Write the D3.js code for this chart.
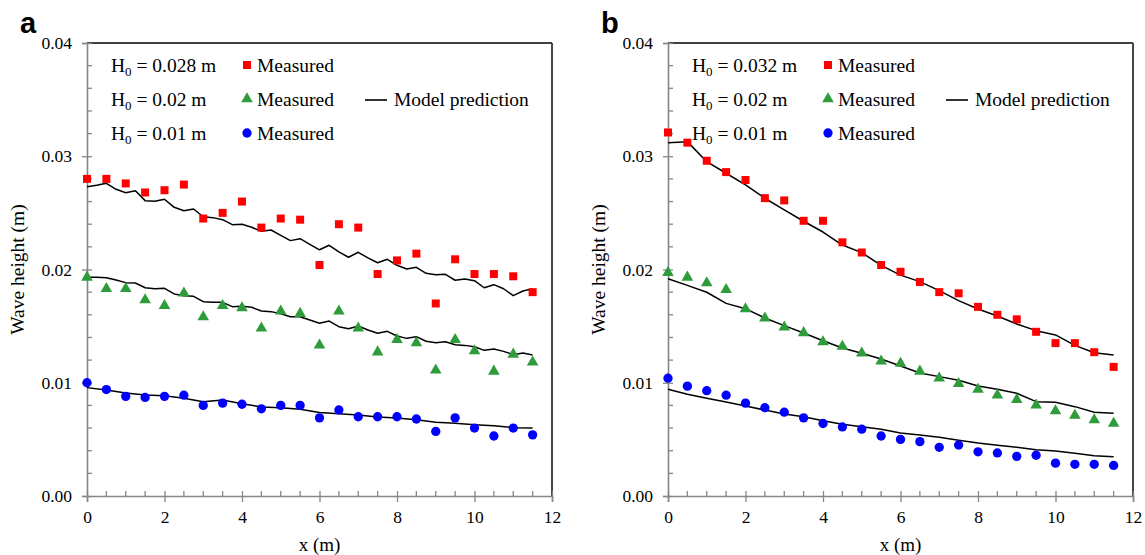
<!DOCTYPE html>
<html>
<head>
<meta charset="utf-8">
<script src="https://cdn.jsdelivr.net/npm/d3@7"></script>
<style>
  body { margin: 0; background: #fff; }
  svg { display: block; }
  text { font-family: "Liberation Serif", "Times New Roman", serif; fill: #000; }
</style>
</head>
<body>
<div id="chart"></div>
<script>
// Measured station positions (m)
const xMeas = [0, 0.5, 1, 1.5, 2, 2.5, 3, 3.5, 4, 4.5, 5, 5.5, 6, 6.5, 7, 7.5, 8, 8.5, 9, 9.5, 10, 10.5, 11, 11.5];
// Model output positions
const xModelFine = [0, 0.25, 0.5, 0.75, 1, 1.25, 1.5, 1.75, 2, 2.25, 2.5, 2.75, 3, 3.25, 3.5, 3.75, 4, 4.25, 4.5, 4.75,
  5, 5.25, 5.5, 5.75, 6, 6.25, 6.5, 6.75, 7, 7.25, 7.5, 7.75, 8, 8.25, 8.5, 8.75, 9, 9.25, 9.5, 9.75,
  10, 10.25, 10.5, 10.75, 11, 11.25, 11.5];
const xModel = xMeas;

// Panel a
const aRedMeas = [0.0280, 0.0280, 0.0276, 0.0268, 0.0270, 0.0275, 0.0245, 0.0250, 0.0260, 0.0237, 0.0245, 0.0244,
  0.0204, 0.0240, 0.0237, 0.0196, 0.0208, 0.0214, 0.0170, 0.0209, 0.0196, 0.0196, 0.0194, 0.0180];
const aGreenMeas = [0.0194, 0.0184, 0.0184, 0.0174, 0.0169, 0.0180, 0.0159, 0.0169, 0.0167, 0.0149, 0.0164, 0.0162,
  0.0134, 0.0164, 0.0149, 0.0128, 0.0139, 0.0136, 0.0112, 0.0139, 0.0129, 0.0111, 0.0126, 0.0119];
const aBlueMeas = [0.0100, 0.0094, 0.0088, 0.0087, 0.0088, 0.0089, 0.0080, 0.0082, 0.0081, 0.0077, 0.0080, 0.0080,
  0.0069, 0.0076, 0.0070, 0.0070, 0.0070, 0.0068, 0.0057, 0.0069, 0.0060, 0.0053, 0.0060, 0.0054];
const aRedModel = [0.02731, 0.02743, 0.02761, 0.02708, 0.02678, 0.02696, 0.02608, 0.02602, 0.0262, 0.02549, 0.02519, 0.02534,
  0.02466, 0.02458, 0.0244, 0.02396, 0.02399, 0.02373, 0.02337, 0.02349, 0.02302, 0.02255, 0.02272, 0.02222,
  0.02174, 0.02214, 0.02155, 0.02108, 0.02152, 0.02102, 0.0206, 0.0209, 0.02037, 0.02004, 0.02019, 0.01966,
  0.01954, 0.01957, 0.01905, 0.01916, 0.01901, 0.01839, 0.01866, 0.0183, 0.01769, 0.0181, 0.0183];
const aGreenModel = [0.01931, 0.01931, 0.01928, 0.01907, 0.01884, 0.01881, 0.01839, 0.01831, 0.01834, 0.01784, 0.01769, 0.01763,
  0.01716, 0.0171, 0.0171, 0.01672, 0.01675, 0.01666, 0.01634, 0.01628, 0.0161, 0.01583, 0.01583, 0.01554,
  0.01525, 0.01545, 0.01495, 0.01477, 0.01501, 0.01466, 0.01437, 0.01454, 0.01413, 0.01392, 0.01407, 0.01366,
  0.01354, 0.01362, 0.01336, 0.0133, 0.01318, 0.01286, 0.01298, 0.01277, 0.01248, 0.01263, 0.01245];
const aBlueModel = [0.00957, 0.00936, 0.0091, 0.00892, 0.00886, 0.00863, 0.00833, 0.00848, 0.00815, 0.00786, 0.0078, 0.00766,
  0.00737, 0.00727, 0.00715, 0.00698, 0.00689, 0.00674, 0.00651, 0.00642, 0.0063, 0.00621, 0.00603, 0.006];

// Panel b
const bRedMeas = [0.0321, 0.0312, 0.0296, 0.0286, 0.0279, 0.0263, 0.0261, 0.0243, 0.0243, 0.0224, 0.0215, 0.0204,
  0.0198, 0.0189, 0.0180, 0.0179, 0.0167, 0.0160, 0.0156, 0.0145, 0.0135, 0.0135, 0.0127, 0.0114];
const bGreenMeas = [0.0198, 0.0194, 0.0189, 0.0183, 0.0166, 0.0158, 0.0150, 0.0145, 0.0137, 0.0133, 0.0127, 0.0120,
  0.0118, 0.0111, 0.0105, 0.0100, 0.0095, 0.0090, 0.0086, 0.0081, 0.0076, 0.0072, 0.0068, 0.0065];
const bBlueMeas = [0.0104, 0.0097, 0.0093, 0.0089, 0.0082, 0.0078, 0.0074, 0.0069, 0.0064, 0.0061, 0.0059, 0.0053,
  0.0050, 0.0048, 0.0043, 0.0045, 0.0039, 0.0038, 0.0035, 0.0036, 0.0029, 0.0028, 0.0028, 0.0027];
const bRedModel = [0.0312, 0.03129, 0.02952, 0.0285, 0.02748, 0.02629, 0.02526, 0.02426, 0.02331, 0.02216, 0.02149, 0.02037,
  0.0195, 0.01893, 0.01813, 0.01725, 0.01651, 0.0159, 0.01519, 0.0146, 0.01422, 0.0133, 0.01265, 0.01245];
const bGreenModel = [0.01919, 0.0186, 0.01799, 0.01701, 0.01654, 0.01572, 0.01504, 0.01439, 0.01371, 0.01307, 0.0126, 0.0121,
  0.01148, 0.01086, 0.01054, 0.01022, 0.00971, 0.00942, 0.00907, 0.00833, 0.00827, 0.00789, 0.00739, 0.0073];
const bBlueModel = [0.00942, 0.00898, 0.00863, 0.0083, 0.00795, 0.00759, 0.00724, 0.007, 0.00665, 0.00633, 0.00612, 0.00589,
  0.00556, 0.00539, 0.00518, 0.00492, 0.00468, 0.00448, 0.0043, 0.00409, 0.00397, 0.00377, 0.00356, 0.00347];

// Ticks and labels
const yMajor = [0, 0.01, 0.02, 0.03, 0.04];
const yMinor = [0.002, 0.004, 0.006, 0.008, 0.012, 0.014, 0.016, 0.018, 0.022, 0.024, 0.026, 0.028,
  0.032, 0.034, 0.036, 0.038];
const xMajor = [0, 2, 4, 6, 8, 10, 12];
const xMinor = [0.5, 1, 1.5, 2.5, 3, 3.5, 4.5, 5, 5.5, 6.5, 7, 7.5, 8.5, 9, 9.5, 10.5, 11, 11.5];

const panels = [
  { label: 'a', ox: 0, h0: ['0.028', '0.02', '0.01'],
    meas: [aRedMeas, aGreenMeas, aBlueMeas],
    model: [[xModelFine, aRedModel], [xModelFine, aGreenModel], [xModel, aBlueModel]] },
  { label: 'b', ox: 581, h0: ['0.032', '0.02', '0.01'],
    meas: [bRedMeas, bGreenMeas, bBlueMeas],
    model: [[xModel, bRedModel], [xModel, bGreenModel], [xModel, bBlueModel]] }
];

const W = 1145, H = 555;
const plotLeft = 87, plotRight = 552, plotTop = 43, plotBottom = 496;
const axisGray = '#868686';
const colors = ['#ff0000', '#2e9c3a', '#0000ff'];

const svg = d3.select('#chart').append('svg')
  .attr('width', W).attr('height', H);

const x = d3.scaleLinear().domain([0, 12]).range([plotLeft, plotRight]);
const y = d3.scaleLinear().domain([0, 0.04]).range([plotBottom, plotTop]);

const square = d3.symbol().type(d3.symbolSquare).size(64);
const triangle = d3.symbol().type(d3.symbolTriangle).size(58);
const circle = d3.symbol().type(d3.symbolCircle).size(68);
const shapes = [square, triangle, circle];

panels.forEach(p => {
  const g = svg.append('g').attr('transform', `translate(${p.ox},0)`);

  // panel letter
  g.append('text')
    .attr('x', 20).attr('y', 33)
    .style('font-family', '"Liberation Sans", Arial, sans-serif')
    .style('font-weight', 'bold')
    .style('font-size', '29px')
    .text(p.label);

  // plot frame (top and right)
  g.append('line').attr('x1', plotLeft).attr('x2', plotRight).attr('y1', plotTop).attr('y2', plotTop)
    .attr('stroke', '#000').attr('stroke-width', 1.3);
  g.append('line').attr('x1', plotRight).attr('x2', plotRight).attr('y1', plotTop).attr('y2', plotBottom)
    .attr('stroke', '#333').attr('stroke-width', 1.8);

  // y axis
  const yAxis = g.append('g')
    .attr('transform', `translate(${plotLeft},0)`)
    .call(d3.axisLeft(y).tickValues(yMajor).tickFormat(d3.format('.2f')).tickSize(5).tickPadding(10));
  yAxis.select('.domain').attr('stroke', axisGray).attr('stroke-width', 1.6);
  yAxis.selectAll('.tick line').attr('stroke', axisGray).attr('stroke-width', 1.3).attr('x1', 5);
  yAxis.selectAll('.tick text').style('font-size', '17.5px')
    .style('font-family', '"Liberation Serif", serif').attr('fill', '#000');
  yAxis.selectAll('.minor').data(yMinor).enter().append('line')
    .attr('x1', 0).attr('x2', 5)
    .attr('y1', d => y(d)).attr('y2', d => y(d))
    .attr('stroke', axisGray).attr('stroke-width', 1.3);

  // x axis
  const xAxis = g.append('g')
    .attr('transform', `translate(0,${plotBottom})`)
    .call(d3.axisBottom(x).tickValues(xMajor).tickFormat(d3.format('d')).tickSize(6).tickPadding(9));
  xAxis.select('.domain').attr('stroke', axisGray).attr('stroke-width', 1.6);
  xAxis.selectAll('.tick line').attr('stroke', axisGray).attr('stroke-width', 1.3).attr('y1', -5);
  xAxis.selectAll('.tick text').style('font-size', '17.5px')
    .style('font-family', '"Liberation Serif", serif').attr('fill', '#000');
  xAxis.selectAll('.minor').data(xMinor).enter().append('line')
    .attr('x1', d => x(d)).attr('x2', d => x(d))
    .attr('y1', 0).attr('y2', -5)
    .attr('stroke', axisGray).attr('stroke-width', 1.3);

  // axis titles
  g.append('text')
    .attr('transform', `translate(24,${(plotTop + plotBottom) / 2}) rotate(-90)`)
    .attr('text-anchor', 'middle')
    .style('font-size', '19.5px')
    .text('Wave height (m)');
  g.append('text')
    .attr('x', (plotLeft + plotRight) / 2).attr('y', 551)
    .attr('text-anchor', 'middle')
    .style('font-size', '19px')
    .text('x (m)');

  // model lines
  const line = d3.line();
  p.model.forEach(([xs, ys]) => {
    g.append('path')
      .attr('d', line(xs.map((d, i) => [x(d), y(ys[i])])))
      .attr('fill', 'none')
      .attr('stroke', '#000')
      .attr('stroke-width', 1.5)
      .attr('stroke-linejoin', 'round');
  });

  // measured points
  p.meas.forEach((vals, k) => {
    g.selectAll(null).data(vals).enter().append('path')
      .attr('d', shapes[k])
      .attr('transform', (d, i) => `translate(${x(xMeas[i])},${y(d) + (k === 1 ? 1 : 0)})`)
      .attr('fill', colors[k]);
  });

  // legend
  const rows = [72, 106, 140];
  p.h0.forEach((h, k) => {
    const t = g.append('text')
      .attr('x', 111).attr('y', rows[k])
      .style('font-size', '19.5px');
    t.append('tspan').text('H');
    t.append('tspan').attr('dy', 4).style('font-size', '13px').text('0');
    t.append('tspan').attr('dy', -4).text(` = ${h} m`);

    g.append('path')
      .attr('d', shapes[k])
      .attr('transform', `translate(247,${rows[k] - 7})`)
      .attr('fill', colors[k]);
    g.append('text')
      .attr('x', 257).attr('y', rows[k])
      .style('font-size', '19.5px')
      .text('Measured');
  });
  g.append('line')
    .attr('x1', 365).attr('x2', 387)
    .attr('y1', rows[1] - 6).attr('y2', rows[1] - 6)
    .attr('stroke', '#000').attr('stroke-width', 1.6);
  g.append('text')
    .attr('x', 394).attr('y', rows[1])
    .style('font-size', '19.5px')
    .text('Model prediction');
});
</script>
</body>
</html>
